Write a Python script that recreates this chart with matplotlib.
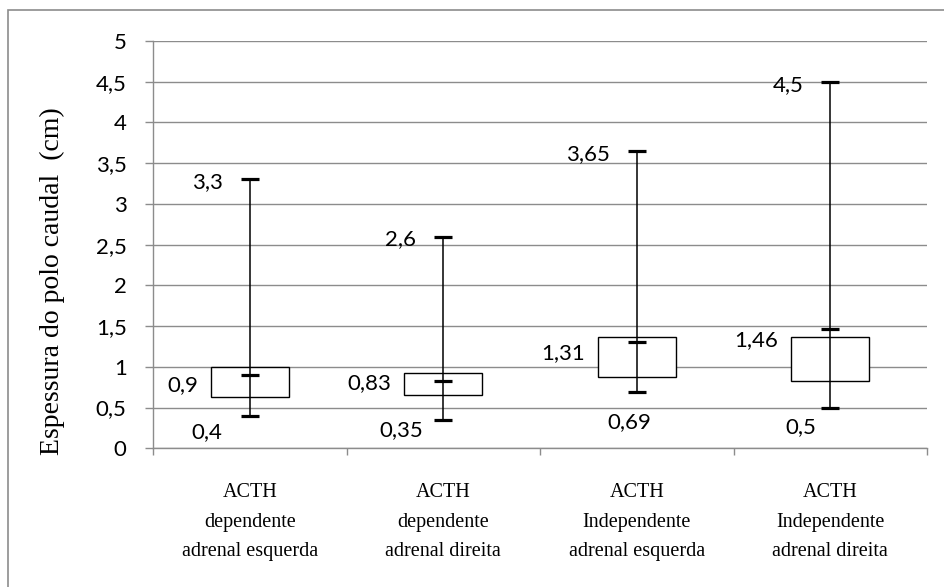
import matplotlib
matplotlib.use("Agg")
import matplotlib.pyplot as plt
from matplotlib.patches import Rectangle
import numpy as np

# --- data --------------------------------------------------------------------
categorias = ["ACTH\ndependente\nadrenal esquerda",
              "ACTH\ndependente\nadrenal direita",
              "ACTH\nIndependente\nadrenal esquerda",
              "ACTH\nIndependente\nadrenal direita"]
maximo = [3.3, 2.6, 3.65, 4.5]
mediana = [0.9, 0.83, 1.31, 1.46]
minimo = [0.4, 0.35, 0.69, 0.5]
q1 = [0.63, 0.65, 0.88, 0.83]
q3 = [1.0, 0.93, 1.37, 1.37]
rotulos_max = ["3,3", "2,6", "3,65", "4,5"]
rotulos_med = ["0,9", "0,83", "1,31", "1,46"]
rotulos_min = ["0,4", "0,35", "0,69", "0,5"]

# label offsets (pixels), placed by hand in the original
med_dy = [-10, -2, -12, -11]
min_dx = [-43, -42, -7, -29]
min_dy = [-16, -10, -30, -20]

# --- figure ------------------------------------------------------------------
W, H = 944, 587
fig = plt.figure(figsize=(W / 100, H / 100), dpi=100)
ax = fig.add_axes([153 / W, 1 - 448.3 / H, (927 - 153) / W, (448.3 - 41) / H])

grey = "#8c8c8c"
num_font = "Lato"
serif = "Liberation Serif"
fs_num = 16

# outer chart frame
fig.patches.append(Rectangle((8 / W, -0.05), 1.2, 1 - 10 / H + 0.05,
                             transform=fig.transFigure, fill=False,
                             edgecolor=grey, lw=1.2))

x = np.arange(len(categorias))

ax.bar(x, np.array(q3) - np.array(q1), bottom=q1, width=0.404,
       facecolor="white", edgecolor="black", lw=1.0, zorder=2)
ax.vlines(x, minimo, maximo, color="black", lw=1.1, zorder=3)
for serie in (maximo, mediana, minimo):
    ax.plot(x, serie, ls="none", marker="_", ms=13.5, mew=2.3,
            color="black", zorder=4)

for i in x:
    ax.annotate(rotulos_max[i], (i, maximo[i]), xytext=(-27, -3),
                textcoords="offset pixels", ha="right", va="center",
                fontsize=fs_num, family=num_font)
    ax.annotate(rotulos_med[i], (i, mediana[i]), xytext=(-52, med_dy[i]),
                textcoords="offset pixels", ha="right", va="center",
                fontsize=fs_num, family=num_font)
    ax.annotate(rotulos_min[i], (i, minimo[i]), xytext=(min_dx[i], min_dy[i]),
                textcoords="offset pixels", ha="center", va="center",
                fontsize=fs_num, family=num_font)

ax.set_xlim(-0.5, len(categorias) - 0.5)
ax.set_ylim(0, 5)
ax.set_yticks(np.arange(0, 5.01, 0.5))
ax.set_yticklabels([f"{v:g}".replace(".", ",") for v in np.arange(0, 5.01, 0.5)],
                   family=num_font, fontsize=fs_num)
ax.yaxis.grid(True, color=grey, lw=1.0)
ax.set_axisbelow(True)

ax.set_xticks(x)
ax.set_xticklabels(categorias, family=serif, fontsize=14.5, linespacing=1.75)
ax.set_xticks(np.arange(-0.5, len(categorias)), minor=True)
ax.tick_params(axis="x", which="major", length=0, pad=25)
ax.tick_params(axis="x", which="minor", length=5, width=1, color=grey)
ax.tick_params(axis="y", length=6, width=1, color=grey, pad=13)

for s in ("top", "right"):
    ax.spines[s].set_visible(False)
for s in ("left", "bottom"):
    ax.spines[s].set_color(grey)
    ax.spines[s].set_linewidth(1.0)

fig.text(52 / W, 1 - 281 / H, "Espessura do polo caudal  (cm)", rotation=90,
         ha="center", va="center", family=serif, fontsize=20)

fig.savefig("out.png", dpi=100)
